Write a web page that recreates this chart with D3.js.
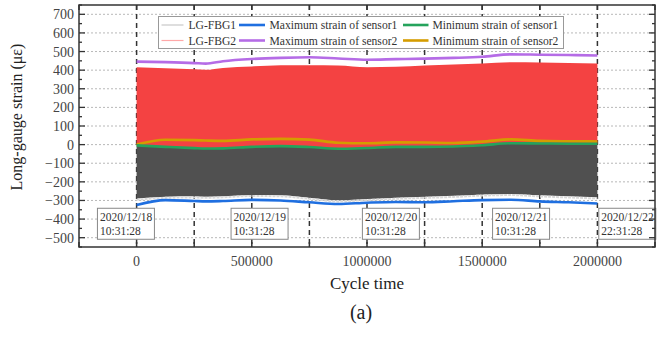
<!DOCTYPE html>
<html>
<head>
<meta charset="utf-8">
<script src="https://cdn.jsdelivr.net/npm/d3@7"></script>
<style>
  body { margin: 0; background: #fff; }
  text { font-family: "Liberation Serif", "Times New Roman", serif; }
</style>
</head>
<body>
<div id="chart"></div>
<script>
// sample points (cycle time) shared by every series
var cycles = [0, 125000, 250000, 300000, 375000, 500000, 625000, 750000, 875000,
  1000000, 1125000, 1250000, 1375000, 1500000, 1625000, 1750000, 1875000, 2000000];

// envelope of the raw signals
var fbg2Top    = [415, 410, 405, 402, 412, 420, 426, 427, 425, 416, 418, 425, 430, 436, 442, 441, 439, 436];
var fbg1Bottom = [-290, -280, -278, -280, -277, -270, -272, -285, -299, -292, -285, -280, -275, -268, -265, -272, -278, -283];

// max / min strain lines
var maxSensor1 = [-325, -298, -303, -305, -303, -297, -300, -310, -319, -312, -308, -310, -304, -298, -296, -305, -310, -316];
var minSensor1 = [-4, -12, -19, -21, -20, -12, -8, -13, -22, -18, -12, -12, -10, -3, 7, 6, 5, 5];
var maxSensor2 = [446, 443, 438, 435, 448, 460, 466, 469, 463, 456, 459, 462, 466, 472, 485, 483, 481, 479];
var minSensor2 = [0, 26, 24, 22, 20, 28, 31, 27, 10, 7, 12, 11, 9, 16, 28, 20, 18, 17];

// date boxes
var dateDays  = ["2020/12/18", "2020/12/19", "2020/12/20", "2020/12/21", "2020/12/22"];
var dateTimes = ["10:31:28", "10:31:28", "10:31:28", "10:31:28", "22:31:28"];
var dateAt    = [-170000, 410000, 980000, 1545000, 2006000];

var xTicks = [0, 500000, 1000000, 1500000, 2000000];
var yTicks = [-500, -400, -300, -200, -100, 0, 100, 200, 300, 400, 500, 600, 700];

var W = 664, H = 337;
var margin = {top: 5, right: 9, bottom: 90, left: 79},
    width = W - margin.left - margin.right,
    height = H - margin.top - margin.bottom;

var svg = d3.select("#chart").append("svg")
    .attr("width", W).attr("height", H);
var g = svg.append("g")
    .attr("transform", "translate(" + margin.left + "," + margin.top + ")");

var x = d3.scaleLinear().domain([-250000, 2250000]).range([0, width]);
var y = d3.scaleLinear().domain([-550, 750]).range([height, 0]);

// horizontal dotted grid
g.selectAll(".hgrid").data(yTicks).enter().append("line")
  .attr("x1", 0).attr("x2", width)
  .attr("y1", d => y(d)).attr("y2", d => y(d))
  .attr("stroke", "#b8b8b8").attr("stroke-width", 1)
  .attr("stroke-dasharray", "2,2");

// vertical dashed day lines
var dashAt = d3.range(0, 2000001, 250000);
g.selectAll(".vline").data(dashAt).enter().append("line")
  .attr("x1", d => x(d)).attr("x2", d => x(d))
  .attr("y1", 0).attr("y2", height)
  .attr("stroke", "#333").attr("stroke-width", 1.5)
  .attr("stroke-dasharray", "5,4");

var pts = cycles.map((c, i) => ({
  c: c, top2: fbg2Top[i], bot1: fbg1Bottom[i],
  max1: maxSensor1[i], min1: minSensor1[i], max2: maxSensor2[i], min2: minSensor2[i]
}));

var curve = d3.curveMonotoneX;

// LG-FBG2 (red)
g.append("path").datum(pts)
  .attr("fill", "#f44242")
  .attr("d", d3.area().curve(curve)
    .x(d => x(d.c)).y0(d => y(d.min1)).y1(d => y(d.top2)));

// LG-FBG1 (dark)
g.append("path").datum(pts)
  .attr("fill", "#505050")
  .attr("d", d3.area().curve(curve)
    .x(d => x(d.c)).y0(d => y(d.bot1)).y1(d => y(d.min1)));

// light edge of LG-FBG1 oscillation
g.append("path").datum(pts)
  .attr("fill", "none").attr("stroke", "#d8d8d8").attr("stroke-width", 2)
  .attr("stroke-dasharray", "3,1")
  .attr("d", d3.line().curve(curve).x(d => x(d.c)).y(d => y(d.bot1 - 6)));

var lines = [
  {key: "min2", color: "#d59c00"},
  {key: "min1", color: "#25a35c"},
  {key: "max1", color: "#1f6fe0"},
  {key: "max2", color: "#b56ce6"}
];
lines.forEach(function(l) {
  g.append("path").datum(pts)
    .attr("fill", "none").attr("stroke", l.color).attr("stroke-width", 2.6)
    .attr("d", d3.line().curve(curve).x(d => x(d.c)).y(d => y(d[l.key])));
});

// date boxes
var boxes = g.selectAll(".datebox").data(dateDays).enter().append("g")
  .attr("transform", (d, i) => "translate(" + x(dateAt[i]) + "," + (y(-350) - 1.5) + ")");
boxes.append("rect")
  .attr("width", 57).attr("height", 31)
  .attr("fill", "#fff").attr("stroke", "#888").attr("stroke-width", 1);
boxes.append("text").attr("x", 2.5).attr("y", 13)
  .attr("font-size", 11.5).attr("fill", "#333").text(d => d);
boxes.append("text").attr("x", 2.5).attr("y", 27)
  .attr("font-size", 11.5).attr("fill", "#333").text((d, i) => dateTimes[i]);

// frame
g.append("rect").attr("width", width).attr("height", height)
  .attr("fill", "none").attr("stroke", "#333").attr("stroke-width", 1.5);

// ticks (inward)
var xAll = d3.range(-250000, 2250001, 250000);
g.selectAll(".tb").data(xAll).enter().append("line")
  .attr("x1", d => x(d)).attr("x2", d => x(d))
  .attr("y1", height).attr("y2", height - 5)
  .attr("stroke", "#333").attr("stroke-width", 1.5);
g.selectAll(".tt").data(xAll).enter().append("line")
  .attr("x1", d => x(d)).attr("x2", d => x(d))
  .attr("y1", 0).attr("y2", 5)
  .attr("stroke", "#333").attr("stroke-width", 1.5);
var yAll = d3.range(-550, 751, 50);
[0, width].forEach(function(x0) {
  var dir = x0 === 0 ? 1 : -1;
  g.selectAll(".ty" + x0).data(yAll).enter().append("line")
    .attr("x1", x0).attr("x2", d => x0 + dir * (d % 100 === 0 ? 6 : 3))
    .attr("y1", d => y(d)).attr("y2", d => y(d))
    .attr("stroke", "#333").attr("stroke-width", 1.3);
});

// tick labels
g.selectAll(".xl").data(xTicks).enter().append("text")
  .attr("x", d => x(d)).attr("y", height + 19)
  .attr("text-anchor", "middle").attr("font-size", 14).attr("fill", "#444")
  .text(d => d);
g.selectAll(".yl").data(yTicks).enter().append("text")
  .attr("x", -5).attr("y", d => y(d) + 5)
  .attr("text-anchor", "end").attr("font-size", 14).attr("fill", "#444")
  .text(d => d < 0 ? "\u2212" + Math.abs(d) : d);

// axis titles
svg.append("text")
  .attr("transform", "translate(22," + 117 + ") rotate(-90)")
  .attr("text-anchor", "middle").attr("font-size", 16).attr("fill", "#222")
  .text("Long-gauge strain (\u03bc\u03b5)");
svg.append("text")
  .attr("x", 367).attr("y", 289)
  .attr("text-anchor", "middle").attr("font-size", 17).attr("fill", "#222")
  .text("Cycle time");
svg.append("text")
  .attr("x", 361).attr("y", 319)
  .attr("text-anchor", "middle").attr("font-size", 20).attr("fill", "#222")
  .text("(a)");

// legend
var legendItems = [
  {name: "LG-FBG1", color: "#c8c8c8", w: 1.2, col: 0, row: 0},
  {name: "LG-FBG2", color: "#ffa8a8", w: 1.2, col: 0, row: 1},
  {name: "Maximum strain of sensor1", color: "#1f6fe0", w: 2.6, col: 1, row: 0},
  {name: "Maximum strain of sensor2", color: "#b56ce6", w: 2.6, col: 1, row: 1},
  {name: "Minimum strain of sensor1", color: "#25a35c", w: 2.6, col: 2, row: 0},
  {name: "Minimum strain of sensor2", color: "#d59c00", w: 2.6, col: 2, row: 1}
];
var colX = [[161.5, 183.5, 188.5], [239, 265, 269.5], [403, 428.5, 432.5]];
var leg = svg.append("g");
leg.append("rect")
  .attr("x", 158.5).attr("y", 16.5).attr("width", 405).attr("height", 32)
  .attr("fill", "#fff").attr("stroke", "#999").attr("stroke-width", 1);
legendItems.forEach(function(it) {
  var cy = 25 + it.row * 15.5;
  var cx = colX[it.col];
  leg.append("line").attr("x1", cx[0]).attr("x2", cx[1])
    .attr("y1", cy).attr("y2", cy)
    .attr("stroke", it.color).attr("stroke-width", it.w);
  leg.append("text").attr("x", cx[2]).attr("y", cy + 4)
    .attr("font-size", 11.6).attr("fill", "#333").text(it.name);
});
</script>
</body>
</html>
